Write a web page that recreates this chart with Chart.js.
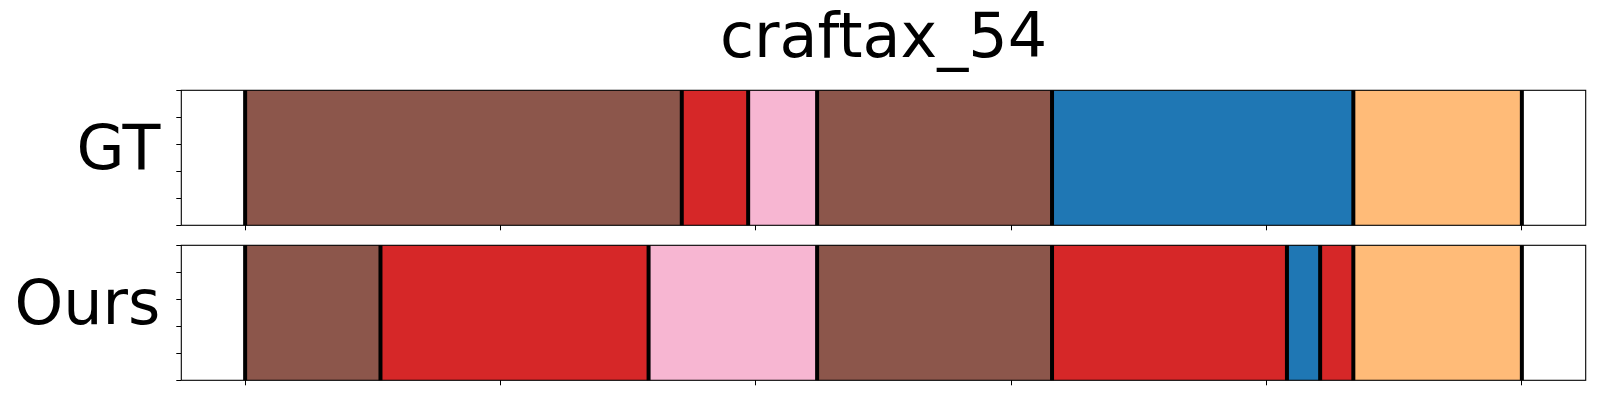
<!DOCTYPE html>
<html>
<head>
<meta charset="utf-8">
<script src="https://cdn.jsdelivr.net/npm/chart.js@4.4.1/dist/chart.umd.min.js"></script>
<style>
  html, body { margin: 0; padding: 0; background: #fff; overflow: hidden; }
  .panel { position: absolute; left: 0; width: 1600px; }
  #gt-wrap { top: 0; height: 235px; }
  #ours-wrap { top: 235px; height: 165px; }
</style>
</head>
<body>
<div class="panel" id="gt-wrap"><canvas id="gt-chart"></canvas></div>
<div class="panel" id="ours-wrap"><canvas id="ours-chart"></canvas></div>
<script>
// segment boundaries (frame index) and the class of each segment
const xTicks = [0, 100, 200, 300, 400, 500];
const yTicks = [0, 0.25, 0.5, 0.75, 1];
const gtBounds = [0, 171, 197, 224, 316, 434, 500];
const gtClasses = [10, 6, 13, 10, 0, 3];
const oursBounds = [0, 53, 158, 224, 316, 408, 421, 434, 500];
const oursClasses = [10, 6, 13, 10, 6, 0, 6, 3];

// matplotlib tab20
const tab20 = ['#1f77b4', '#aec7e8', '#ff7f0e', '#ffbb78', '#2ca02c', '#98df8a', '#d62728', '#ff9896',
  '#9467bd', '#c5b0d5', '#8c564b', '#c49c94', '#e377c2', '#f7b6d2', '#7f7f7f', '#c7c7c7',
  '#bcbd22', '#dbdb8d', '#17becf', '#9edae5'];

Chart.defaults.font.family = "'DejaVu Sans'";
Chart.defaults.color = '#000';

// black lines on segment boundaries + box around the axes
const boundaryLines = {
  id: 'boundaryLines',
  afterDatasetsDraw(chart, args, opts) {
    const {ctx, chartArea, scales} = chart;
    ctx.save();
    ctx.strokeStyle = '#000';
    ctx.lineWidth = 4;
    opts.bounds.forEach(v => {
      const x = scales.x.getPixelForValue(v);
      ctx.beginPath();
      ctx.moveTo(x, chartArea.top);
      ctx.lineTo(x, chartArea.bottom);
      ctx.stroke();
    });
    ctx.lineWidth = 1.1;
    ctx.strokeRect(chartArea.left, chartArea.top, chartArea.width, chartArea.height);
    ctx.restore();
  }
};

function makeChart(canvasId, rowName, bounds, classes, titleText, padTop, padBottom) {
  const segments = classes.map((c, i) => ({ y: rowName, x: [bounds[i], bounds[i + 1]] }));
  return new Chart(document.getElementById(canvasId), {
    type: 'bar',
    data: {
      labels: [rowName],
      datasets: [{
        data: segments,
        backgroundColor: classes.map(c => tab20[c]),
        borderWidth: 0,
        categoryPercentage: 1,
        barPercentage: 1,
        yAxisID: 'yRow'
      }]
    },
    plugins: [boundaryLines],
    options: {
      indexAxis: 'y',
      responsive: true,
      maintainAspectRatio: false,
      animation: false,
      layout: { padding: { top: padTop, bottom: padBottom, left: 0, right: 14.3 } },
      scales: {
        x: {
          type: 'linear', min: -25, max: 525,
          afterBuildTicks: s => { s.ticks = xTicks.map(v => ({ value: v })); },
          ticks: { display: false },
          grid: { drawOnChartArea: false, tickLength: 5, color: '#000' },
          border: { display: false },
          afterFit: s => { s.height = 5; s.paddingLeft = 0; s.paddingRight = 0; }
        },
        yRow: { type: 'category', axis: 'y', display: false },
        y: {
          type: 'linear', position: 'left', min: 0, max: 1,
          afterBuildTicks: s => { s.ticks = yTicks.map(v => ({ value: v })); },
          ticks: {
            autoSkip: false,
            callback: v => (v === 0.5 ? rowName : ''),
            font: { size: 62 },
            padding: 16,
            labelOffset: -5,
            color: '#000'
          },
          grid: { drawOnChartArea: false, tickLength: 5, color: '#000' },
          border: { display: false },
          afterFit: s => { s.width = 181.3; s.paddingTop = 0; s.paddingBottom = 0; }
        }
      },
      plugins: {
        legend: { display: false },
        tooltip: { enabled: false },
        boundaryLines: { bounds: bounds },
        title: {
          display: !!titleText,
          text: titleText,
          fullSize: false,
          color: '#000',
          font: { size: 62, weight: 'normal', lineHeight: 1.2 },
          padding: { top: 3.7, bottom: 12.2 }
        }
      }
    }
  });
}

makeChart('gt-chart', 'GT', gtBounds, gtClasses, 'craftax_54', 0, 4.7);
makeChart('ours-chart', 'Ours', oursBounds, oursClasses, '', 10.3, 14.7);
</script>
</body>
</html>
